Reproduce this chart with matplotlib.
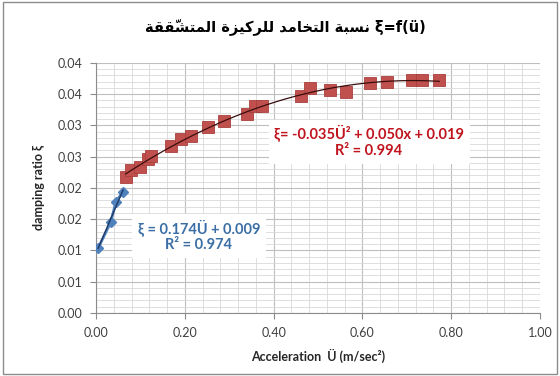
import numpy as np
import matplotlib
matplotlib.use("Agg")
import matplotlib.pyplot as plt
from matplotlib.patches import Rectangle

# blue series (low accelerations) and red series
blue_x = [0.005, 0.033, 0.045, 0.061]
blue_y = [0.0104, 0.0145, 0.0178, 0.0194]

red_x = [0.067, 0.078, 0.099, 0.118, 0.123, 0.170, 0.191, 0.215, 0.253, 0.288,
         0.339, 0.359, 0.374, 0.461, 0.481, 0.526, 0.563, 0.617, 0.655, 0.712,
         0.735, 0.773]
red_y = [0.0217, 0.0228, 0.0233, 0.0247, 0.0251, 0.0267, 0.0279, 0.0283, 0.0298, 0.0307,
         0.0318, 0.0331, 0.0331, 0.0347, 0.0360, 0.0356, 0.0354, 0.0368, 0.0370, 0.0373,
         0.0373, 0.0373]

xticks = [0.0, 0.2, 0.4, 0.6, 0.8, 1.0]
xtick_labels = ["0.00", "0.20", "0.40", "0.60", "0.80", "1.00"]
yticks = [0.0, 0.005, 0.01, 0.015, 0.02, 0.025, 0.03, 0.035, 0.04]
ytick_labels = ["0.00", "0.01", "0.01", "0.02", "0.02", "0.03", "0.03", "0.04", "0.04"]

title_ar = "نسبة التخامد للركيزة المتشقّقة"
title_formula = "ξ=f(ü)"
blue_eq = "ξ = 0.174Ü + 0.009\nR² = 0.974"
red_eq = "ξ= -0.035Ü² + 0.050x + 0.019\nR² = 0.994"

# minimal arabic shaping (matplotlib has no bidi / joining support)
FORMS = {
    'ا': (0xFE8D, 0xFE8E, None, None), 'ب': (0xFE8F, 0xFE90, 0xFE91, 0xFE92),
    'ة': (0xFE93, 0xFE94, None, None), 'ت': (0xFE95, 0xFE96, 0xFE97, 0xFE98),
    'خ': (0xFEA5, 0xFEA6, 0xFEA7, 0xFEA8), 'د': (0xFEA9, 0xFEAA, None, None),
    'ر': (0xFEAD, 0xFEAE, None, None), 'ز': (0xFEAF, 0xFEB0, None, None),
    'س': (0xFEB1, 0xFEB2, 0xFEB3, 0xFEB4), 'ش': (0xFEB5, 0xFEB6, 0xFEB7, 0xFEB8),
    'ق': (0xFED5, 0xFED6, 0xFED7, 0xFED8), 'ك': (0xFED9, 0xFEDA, 0xFEDB, 0xFEDC),
    'ل': (0xFEDD, 0xFEDE, 0xFEDF, 0xFEE0), 'م': (0xFEE1, 0xFEE2, 0xFEE3, 0xFEE4),
    'ن': (0xFEE5, 0xFEE6, 0xFEE7, 0xFEE8), 'ي': (0xFEF1, 0xFEF2, 0xFEF3, 0xFEF4),
}
MARKS = {'\u0651', '\u064E'}


def shape_word(w):
    clusters = []
    for i, c in enumerate(w):
        if c in MARKS:
            clusters[-1] += c
            continue
        j = i - 1
        while j >= 0 and w[j] in MARKS:
            j -= 1
        k = i + 1
        while k < len(w) and w[k] in MARKS:
            k += 1
        prev_j = j >= 0 and w[j] in FORMS and FORMS[w[j]][2] is not None
        next_j = k < len(w) and w[k] in FORMS and FORMS[c][2] is not None
        iso, fin, ini, med = FORMS[c]
        if prev_j and next_j:
            g = med
        elif prev_j:
            g = fin
        elif next_j:
            g = ini
        else:
            g = iso
        clusters.append(chr(g))
    return "".join(reversed(clusters))


def visual_ar(text):
    return " ".join(shape_word(w) for w in reversed(text.split(" ")))


fig = plt.figure(figsize=(5.6, 3.76), dpi=100)
fig.patches.append(Rectangle((0.006, 0.004), 0.988, 0.99, transform=fig.transFigure,
                             fill=False, edgecolor="#8c8c8c", linewidth=1.0))
ax = fig.add_axes([0.1714, 0.1676, 0.7929, 0.6649])

tick_font = "Lato"
ax.set_xlim(0, 1.0)
ax.set_ylim(0, 0.04)
ax.set_xticks(xticks)
ax.set_xticklabels(xtick_labels, fontname=tick_font, fontsize=9, color="#404040")
ax.set_yticks(yticks)
ax.set_yticklabels(ytick_labels, fontname=tick_font, fontsize=9, color="#404040")
ax.set_xticks(np.arange(0, 1.0001, 0.04), minor=True)
ax.set_yticks(np.arange(0, 0.04001, 0.001), minor=True)
ax.grid(which="major", color="#bfbfbf", linewidth=0.8)
ax.grid(which="minor", color="#d9d9d9", linewidth=0.6)
ax.set_axisbelow(True)
ax.tick_params(which="major", direction="out", length=4, color="#8c8c8c", pad=6)
ax.tick_params(which="minor", length=0)
for s in ["top", "right"]:
    ax.spines[s].set_visible(False)
for s in ["left", "bottom"]:
    ax.spines[s].set_color("#8c8c8c")
    ax.spines[s].set_linewidth(0.8)

# trend lines
bx = np.array(blue_x)
rx = np.array(red_x)
pb = np.polyfit(bx, blue_y, 1)
pr = np.polyfit(rx, red_y, 2)
xb = np.linspace(bx.min(), bx.max(), 50)
xr = np.linspace(rx.min(), rx.max(), 200)

ax.plot(blue_x, blue_y, color="#4f81bd", linewidth=2.0, marker="D", markersize=5.5,
        markerfacecolor="#4f81bd", markeredgecolor="#4f81bd", zorder=3)
ax.plot(xb, np.polyval(pb, xb), color="#1f3864", linewidth=1.0, zorder=4)
ax.plot(red_x, red_y, linestyle="none", marker="s", markersize=9,
        markerfacecolor="#c0504d", markeredgecolor="#a9403d", markeredgewidth=0.6, zorder=3)
ax.plot(xr, np.polyval(pr, xr), color="#3a0d0d", linewidth=0.9, zorder=4)

ax.text(0.232, 0.0123, blue_eq, ha="center", va="center", fontname="Lato", fontweight="bold",
        fontsize=10.5, color="#3a6ea5", linespacing=1.15,
        bbox=dict(facecolor="white", edgecolor="none", pad=4), zorder=5)
ax.text(0.615, 0.0274, red_eq, ha="center", va="center", fontname="Lato", fontweight="bold",
        fontsize=10.5, color="#c0141e", linespacing=1.15,
        bbox=dict(facecolor="white", edgecolor="none", pad=4), zorder=5)

ax.set_xlabel("Acceleration  Ü (m/sec²)", fontname="Lato", fontweight="bold", fontsize=9,
              color="#262626", labelpad=7)
ax.set_ylabel("damping ratio ξ", fontname="Lato", fontweight="bold", fontsize=9,
              color="#262626", labelpad=9)

fig.text(0.51, 0.93, visual_ar(title_ar) + " " + title_formula, ha="center", va="center",
         family=["DejaVu Sans"], fontweight="bold", fontsize=10.5, color="black")

fig.savefig("out.png", dpi=100)
